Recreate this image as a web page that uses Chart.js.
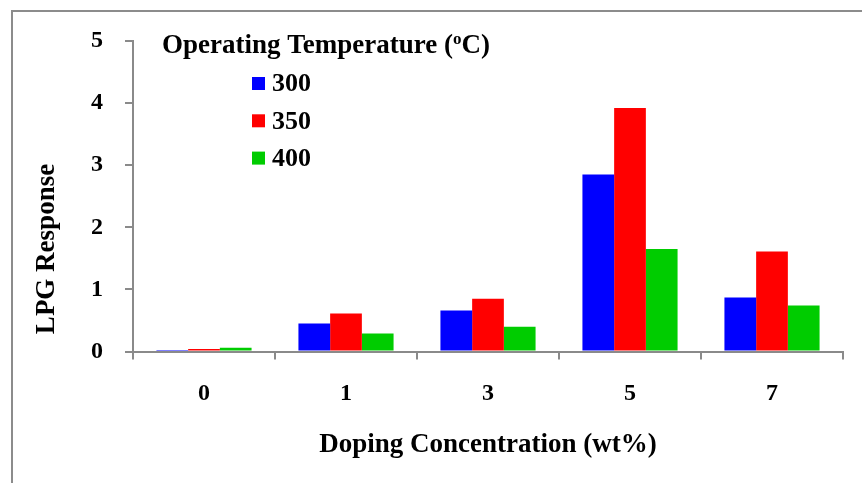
<!DOCTYPE html>
<html>
<head>
<meta charset="utf-8">
<script src="https://cdn.jsdelivr.net/npm/chart.js@4/dist/chart.umd.min.js"></script>
<style>
  html, body { margin: 0; padding: 0; background: #fff; overflow: hidden; }
  canvas { display: block; }
</style>
</head>
<body>
<canvas id="c" width="862" height="483"></canvas>
<script>
// Doping concentration (wt%) categories
const categories = ['0', '1', '3', '5', '7'];
// LPG response at each operating temperature
const temps = ['300', '350', '400'];
const resp300 = [0.01, 0.45, 0.66, 2.85, 0.87];
const resp350 = [0.04, 0.61, 0.85, 3.92, 1.61];
const resp400 = [0.06, 0.29, 0.40, 1.65, 0.74];
const yTicks = [0, 1, 2, 3, 4, 5];

const colors = ['#0000FF', '#FF0000', '#00CC00'];
const axisGray = '#8a8a8a';
const serif = "'Liberation Serif', 'Times New Roman', serif";

// Outer frame and white background
const framePlugin = {
  id: 'frame',
  beforeDraw(chart) {
    const ctx = chart.ctx;
    ctx.save();
    ctx.fillStyle = '#fff';
    ctx.fillRect(0, 0, chart.width, chart.height);
    ctx.strokeStyle = '#8c8c8c';
    ctx.lineWidth = 2;
    ctx.strokeRect(12, 11, chart.width + 20, chart.height + 20);
    ctx.restore();
  }
};

// Rotated y-axis title
const yTitlePlugin = {
  id: 'yTitle',
  afterDraw(chart) {
    const ctx = chart.ctx;
    ctx.save();
    ctx.translate(47, 249);
    ctx.rotate(-Math.PI / 2);
    ctx.font = 'bold 27px ' + serif;
    ctx.fillStyle = '#000';
    ctx.textAlign = 'center';
    ctx.textBaseline = 'middle';
    ctx.fillText('LPG Response', 0, 0);
    ctx.restore();
  }
};

// Legend with title inside the plot area
const legendPlugin = {
  id: 'innerLegend',
  afterDraw(chart) {
    const ctx = chart.ctx;
    ctx.save();
    ctx.fillStyle = '#000';
    ctx.textBaseline = 'alphabetic';
    ctx.textAlign = 'left';
    // Title: Operating Temperature (°C) with a superscript o
    let x = 162;
    const base = 53;
    ctx.font = 'bold 27px ' + serif;
    const t1 = 'Operating Temperature (';
    ctx.fillText(t1, x, base);
    x += ctx.measureText(t1).width;
    ctx.font = 'bold 17px ' + serif;
    ctx.fillText('o', x, base - 9);
    x += ctx.measureText('o').width;
    ctx.font = 'bold 27px ' + serif;
    ctx.fillText('C)', x, base);

    ctx.textBaseline = 'middle';
    chart.data.datasets.forEach((ds, i) => {
      const cy = 83.5 + i * 37.3;
      ctx.fillStyle = ds.backgroundColor;
      ctx.fillRect(252, cy - 6.5, 13, 13);
      ctx.fillStyle = '#000';
      ctx.font = 'bold 26px ' + serif;
      ctx.fillText(ds.label, 272, cy + 1);
    });
    ctx.restore();
  }
};

new Chart(document.getElementById('c'), {
  type: 'bar',
  data: {
    labels: categories,
    datasets: [
      { label: temps[0], data: resp300, backgroundColor: colors[0] },
      { label: temps[1], data: resp350, backgroundColor: colors[1] },
      { label: temps[2], data: resp400, backgroundColor: colors[2] }
    ]
  },
  options: {
    responsive: false,
    animation: false,
    devicePixelRatio: 1,
    events: [],
    layout: { padding: { left: 0, top: 41, right: 19, bottom: 0 } },
    datasets: { bar: { categoryPercentage: 0.67, barPercentage: 1.0, borderWidth: 0 } },
    plugins: {
      legend: { display: false },
      tooltip: { enabled: false },
      title: { display: false }
    },
    scales: {
      x: {
        grid: {
          offset: true,
          drawOnChartArea: false,
          drawTicks: true,
          tickLength: 8,
          color: axisGray,
          lineWidth: 2
        },
        border: { display: true, color: axisGray, width: 2 },
        ticks: {
          color: '#000',
          padding: 20,
          font: { family: serif, size: 24, weight: 'bold' }
        },
        title: {
          display: true,
          text: 'Doping Concentration (wt%)',
          color: '#000',
          font: { family: serif, size: 27, weight: 'bold' },
          padding: { top: 0, bottom: 22 }
        },
        afterFit(scale) { scale.height = 131.5; }
      },
      y: {
        min: 0,
        max: 5,
        afterBuildTicks(scale) { scale.ticks = yTicks.map(v => ({ value: v })); },
        grid: {
          drawOnChartArea: false,
          drawTicks: true,
          tickLength: 8,
          color: axisGray,
          lineWidth: 2
        },
        border: { display: true, color: axisGray, width: 2 },
        ticks: {
          color: '#000',
          padding: 22,
          font: { family: serif, size: 24, weight: 'bold' }
        },
        afterFit(scale) { scale.width = 133; }
      }
    }
  },
  plugins: [framePlugin, yTitlePlugin, legendPlugin]
});
</script>
</body>
</html>
